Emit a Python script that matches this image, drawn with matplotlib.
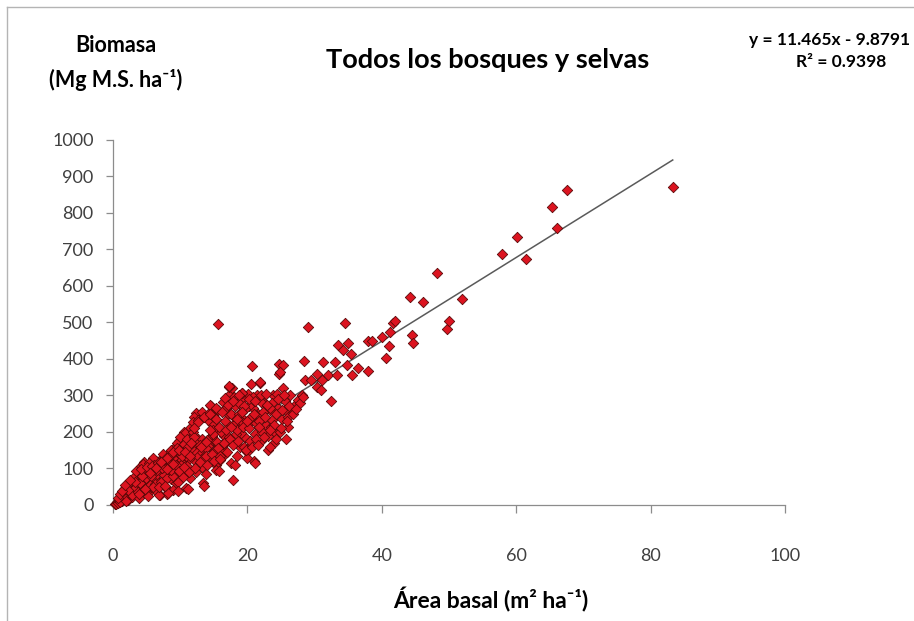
import matplotlib.pyplot as plt
from matplotlib.lines import Line2D

plt.rcParams['font.family'] = ['Lato', 'DejaVu Sans']

# basal area (m2/ha) and biomass (Mg/ha)
# dense cloud, 10 points per row
area_basal = [
    0.3, 0.6, 0.9, 0.4, 1.2, 1.4, 0.8, 1.7, 2.0, 1.1,
    1.6, 2.3, 1.9, 2.7, 2.2, 3.1, 2.5, 2.9, 3.3, 1.4,
    3.6, 3.0, 4.1, 3.4, 3.8, 4.4, 2.6, 4.7, 3.9, 4.3,
    5.1, 4.6, 5.4, 4.9, 5.8, 5.2, 6.1, 4.2, 5.6, 6.4,
    6.8, 5.9, 7.2, 6.3, 6.6, 7.5, 7.0, 6.0, 7.8, 7.3,
    8.3, 7.7, 8.0, 8.7, 8.1, 9.1, 8.5, 7.4, 9.4, 8.9,
    9.8, 9.3, 10.2, 9.6, 10.6, 9.0, 10.4, 10.9, 9.7, 11.2,
    10.1, 11.5, 10.8, 11.8, 11.1, 12.2, 11.4, 12.6, 10.5, 12.0,
    12.4, 13.1, 11.7, 12.9, 13.4, 12.7, 14.0, 13.7, 12.3, 14.3,
    13.2, 14.6, 13.9, 15.0, 14.8, 15.3, 13.5, 14.8, 15.7, 14.1,
    15.9, 15.4, 16.3, 15.1, 16.7, 16.0, 17.1, 16.5, 15.6, 17.4,
    17.0, 17.8, 16.9, 18.2, 17.5, 18.6, 17.7, 18.9, 16.2, 19.3,
    19.0, 18.4, 19.6, 20.1, 19.2, 20.5, 18.0, 19.9, 20.8, 21.2,
    21.6, 20.6, 22.1, 21.0, 22.5, 21.9, 20.3, 22.8, 23.3, 21.4,
    23.0, 23.8, 22.3, 24.2, 23.5, 24.6, 24.0, 25.1, 24.9, 25.6,
    26.0, 25.3, 26.6, 25.8, 27.0, 27.6, 26.3, 27.8, 28.1, 28.3,
    2.8, 4.0, 5.0, 6.2, 7.1, 8.4, 9.2, 10.3, 11.3, 12.5,
    13.0, 14.2, 15.2, 16.1, 17.2, 18.3, 19.4, 20.4, 21.5, 22.7,
    3.5, 4.8, 6.5, 7.6, 8.8, 9.9, 11.0, 12.1, 13.6, 14.9,
    16.4, 17.9, 19.1, 20.2, 21.3, 22.4, 23.6, 24.4, 13.8, 15.5,
    4.5, 5.3, 7.4, 9.5, 10.7, 12.0, 13.3, 14.4, 16.6, 17.3,
    6.9, 8.2, 9.7, 11.2, 13.6, 15.8, 18.1, 20.0, 21.1, 23.4,
    17.2, 19.2, 20.7, 21.9, 24.7, 24.7, 25.3, 24.9, 25.6, 20.9,
    11.9, 12.6, 14.2, 14.7, 16.8, 18.8, 19.7, 22.0, 10.0, 8.6,
    1.5, 2.4, 3.2, 4.0, 4.9, 5.7, 6.6, 7.4, 8.2, 9.0,
    1.9, 2.9, 3.7, 4.6, 5.5, 6.3, 7.1, 8.0, 8.9, 9.7,
    2.2, 3.3, 4.3, 5.2, 6.1, 7.0, 7.9, 8.7, 9.6, 10.5,
    10.1, 10.8, 11.6, 12.4, 13.2, 14.0, 14.9, 15.8, 16.7, 17.6,
    10.4, 11.3, 12.2, 13.0, 13.9, 14.8, 15.6, 16.5, 17.4, 18.3,
    11.0, 11.9, 12.6, 13.5, 14.4, 15.3, 16.2, 17.1, 17.9, 18.8,
    18.7, 19.5, 20.3, 21.1, 22.0, 22.8, 23.6, 24.5, 25.4, 26.2,
    18.5, 19.3, 20.2, 21.0, 21.8, 22.6, 23.4, 24.3, 25.2, 26.0,
    16.0, 16.9, 17.8, 18.6, 19.5, 20.4, 21.3, 22.2, 23.1, 24.0,
    5.9, 6.8, 7.7, 8.6, 9.4, 10.3, 11.1, 12.0, 12.9, 13.8,
    0.7, 1.0, 1.3, 1.8, 2.6, 3.4, 4.2, 5.0, 5.8, 6.7,
    7.3, 8.1, 9.0, 9.9, 10.7, 11.6, 12.1, 13.1, 14.5, 15.4,
    19.8, 20.7, 21.6, 22.5, 23.3, 24.2, 25.0, 25.9, 26.8, 27.3,
    14.0, 15.0, 15.9, 16.8, 17.6, 18.4, 19.2, 20.0, 21.7, 22.9,
    3.9, 4.7, 5.5, 6.4, 7.2, 8.1, 8.9, 9.8, 10.6, 11.4,
]
biomasa = [
    4, 9, 14, 2, 22, 12, 5, 30, 18, 8,
    45, 25, 38, 52, 14, 40, 63, 21, 66, 33,
    28, 75, 55, 48, 88, 38, 30, 102, 18, 78,
    62, 118, 35, 85, 98, 24, 72, 108, 50, 120,
    90, 128, 58, 40, 108, 132, 28, 76, 95, 66,
    142, 48, 110, 70, 31, 155, 88, 118, 60, 128,
    175, 100, 82, 138, 188, 40, 120, 160, 62, 98,
    150, 212, 47, 140, 178, 120, 75, 232, 200, 168,
    90, 248, 196, 145, 60, 180, 128, 240, 252, 168,
    105, 270, 85, 148, 222, 110, 170, 190, 260, 232,
    205, 96, 282, 240, 140, 122, 250, 190, 495, 305,
    175, 68, 225, 270, 115, 210, 320, 160, 155, 290,
    240, 135, 185, 305, 308, 230, 295, 145, 265, 195,
    250, 332, 175, 120, 280, 335, 160, 220, 260, 300,
    150, 301, 240, 195, 215, 265, 170, 235, 201, 285,
    215, 320, 256, 182, 270, 288, 300, 279, 301, 297,
    36, 45, 68, 70, 95, 85, 112, 115, 125, 138,
    150, 162, 175, 200, 185, 228, 225, 238, 245, 262,
    58, 58, 85, 82, 98, 132, 108, 150, 128, 205,
    168, 245, 198, 270, 225, 255, 232, 305, 155, 172,
    112, 116, 140, 170, 196, 242, 255, 275, 292, 324,
    27, 32, 38, 44, 52, 92, 110, 130, 115, 160,
    326, 308, 381, 338, 386, 359, 384, 365, 260, 297,
    228, 232, 250, 246, 265, 280, 262, 282, 185, 150,
    25, 35, 45, 60, 75, 80, 95, 105, 120, 130,
    12, 28, 35, 40, 55, 58, 62, 75, 80, 92,
    42, 62, 80, 95, 110, 118, 128, 138, 155, 168,
    110, 135, 155, 170, 180, 178, 195, 215, 230, 250,
    78, 90, 100, 118, 135, 140, 155, 170, 180, 195,
    182, 200, 228, 240, 250, 265, 255, 275, 285, 300,
    250, 270, 290, 285, 300, 305, 280, 290, 300, 270,
    205, 215, 210, 250, 230, 240, 265, 250, 260, 240,
    135, 145, 165, 175, 160, 175, 180, 200, 190, 220,
    48, 50, 52, 95, 110, 135, 160, 185, 165, 172,
    20, 30, 38, 55, 68, 92, 98, 104, 108, 115,
    100, 128, 145, 150, 145, 170, 210, 160, 205, 235,
    150, 160, 165, 185, 205, 180, 210, 230, 250, 262,
    110, 120, 125, 205, 215, 235, 255, 230, 215, 275,
    30, 45, 88, 100, 118, 98, 112, 92, 105, 135,
]
# sparse points above ~28 m2/ha
area_basal_altos = [
    28.4, 28.6, 29.0, 29.5, 30.3, 30.3, 30.9, 31.1, 31.3, 32.0, 32.4, 33.0,
    33.3, 33.5, 34.3, 34.5, 34.8, 35.0, 35.4, 35.5, 36.5, 37.9, 38.0, 38.5,
    40.0, 40.7, 41.1, 41.2, 41.7, 41.9, 44.2, 44.5, 44.6, 46.2, 48.2, 49.7,
    50.0, 52.0, 57.9, 60.2, 61.5, 65.3, 66.1, 67.5, 83.3,
]
biomasa_altos = [
    395, 342, 489, 342, 359, 324, 315, 342, 392, 356, 285, 393,
    356, 438, 425, 498, 384, 445, 414, 356, 374, 367, 450, 448,
    461, 404, 436, 474, 498, 505, 570, 467, 443, 557, 636, 481,
    505, 563, 687, 733, 675, 816, 760, 863, 870,
]

# Excel linear trendline shown on the chart
pendiente = 11.465
intercepto = -9.8791
ecuacion = 'y = 11.465x - 9.8791'
r2_texto = 'R² = 0.9398'

x_ticks = [0, 20, 40, 60, 80, 100]
y_ticks = [0, 100, 200, 300, 400, 500, 600, 700, 800, 900, 1000]

fig = plt.figure(figsize=(9.14, 6.21), dpi=100)
ax = fig.add_axes([0.1236, 0.1868, 0.7352, 0.5878])

x_todos = area_basal + area_basal_altos
y_todos = biomasa + biomasa_altos
x_max = max(x_todos)
x_ini = -intercepto / pendiente
ax.plot([x_ini, x_max], [0, pendiente * x_max + intercepto],
        color='#5a5a5a', lw=1.1, zorder=2)
ax.scatter(x_todos, y_todos, marker='D', s=28, facecolor='#dc1420',
           edgecolor='#5a0808', linewidth=0.6, zorder=3, clip_on=False)

ax.set_xlim(0, 100)
ax.set_ylim(0, 1000)
ax.set_xticks(x_ticks)
ax.set_yticks(y_ticks)
for side in ['top', 'right']:
    ax.spines[side].set_visible(False)
for side in ['left', 'bottom']:
    ax.spines[side].set_color('#8c8c8c')
    ax.spines[side].set_linewidth(0.9)
ax.tick_params(axis='x', length=6, width=0.9, color='#8c8c8c', pad=25,
               labelsize=13, labelcolor='#404040')
ax.tick_params(axis='y', length=5, width=0.9, color='#8c8c8c', pad=9,
               labelsize=13, labelcolor='#404040')

fig.text(0.127, 0.9275, 'Biomasa', ha='center', va='center',
         fontsize=15.5, fontweight='bold')
fig.text(0.127, 0.871, '(Mg M.S. ha⁻¹)', ha='center', va='center',
         fontsize=15.5, fontweight='bold')
fig.text(0.533, 0.903, 'Todos los bosques y selvas', ha='center', va='center',
         fontsize=19.5, fontweight='bold')
fig.text(0.996, 0.9356, ecuacion, ha='right', va='center',
         fontsize=12.5, fontweight='bold')
fig.text(0.92, 0.900, r2_texto, ha='center', va='center',
         fontsize=12.5, fontweight='bold')
fig.text(0.537, 0.034, 'Área basal (m² ha⁻¹)',
         ha='center', va='center', fontsize=16.5, fontweight='bold')

# frame of the pasted chart (only left and top edges visible)
fig.add_artist(Line2D([0.0077, 0.0077], [0.0, 0.9887], color='#b4b4b4',
                      lw=1.0, transform=fig.transFigure))
fig.add_artist(Line2D([0.0077, 1.0], [0.9887, 0.9887], color='#b4b4b4',
                      lw=1.0, transform=fig.transFigure))

fig.savefig('out.png', dpi=100)
